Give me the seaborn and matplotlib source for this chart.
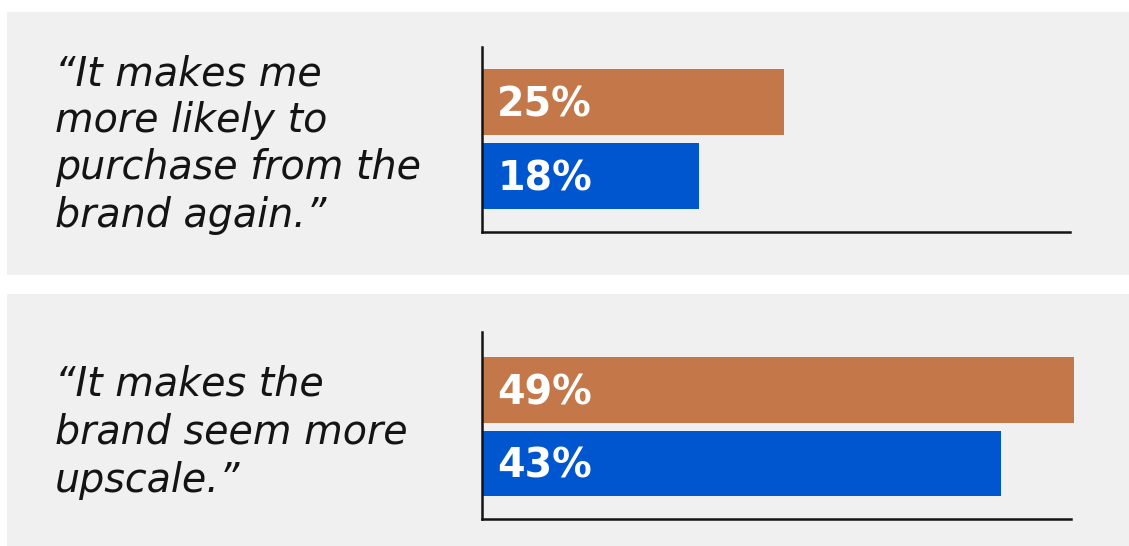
import matplotlib
matplotlib.use("Agg")
import matplotlib.pyplot as plt
import seaborn as sns
import pandas as pd
from matplotlib.patches import Rectangle

# Survey statements (one list of lines per panel)
statements = [
    ["\u201cIt makes me", "more likely to", "purchase from the", "brand again.\u201d"],
    ["\u201cIt makes the", "brand seem more", "upscale.\u201d"],
]
# Two respondent groups shown in each panel
groups = ["Group A", "Group B"]
# Share of respondents agreeing, in percent
purchase_again = [25, 18]
seem_upscale = [49, 43]
panel_values = [purchase_again, seem_upscale]

bar_colors = ["#c4784a", "#0056cf"]
panel_bg = "#f0f0f0"
ink = "#141414"

sns.set_style("white")
plt.rcParams["font.family"] = ["DejaVu Sans"]

W, H = 1129, 546
fig = plt.figure(figsize=(W / 100, H / 100), dpi=100)
fig.patch.set_facecolor("white")


def fx(px):
    return px / W


def fy(py):
    return 1 - py / H


# Panel backgrounds (pixel boxes: left, top, right, bottom)
for left, top, right, bottom in [(7, 12, W, 275), (7, 294, W, H)]:
    fig.add_artist(Rectangle((fx(left), fy(bottom)), fx(right - left), (bottom - top) / H,
                             transform=fig.transFigure, facecolor=panel_bg,
                             edgecolor="none", zorder=0))

# Axes boxes and text baselines per panel
axes_boxes = [(482, 47, 1070, 232), (482, 332, 1071, 519)]
y_limits = [(1.757, -0.743), (1.755, -0.789)]
text_baselines = [[85, 132, 179, 227], [395, 443, 492]]
px_per_pct = 12.08

for values, lines, box, ylim, baselines in zip(panel_values, statements, axes_boxes,
                                                y_limits, text_baselines):
    left, top, right, bottom = box
    ax = fig.add_axes([fx(left), fy(bottom), fx(right - left), (bottom - top) / H])
    ax.set_facecolor("none")
    df = pd.DataFrame({"group": groups, "value": values})
    sns.barplot(data=df, x="value", y="group", hue="group", palette=bar_colors,
                orient="h", width=0.89, saturation=1, legend=False, ax=ax)
    for patch in ax.patches:
        patch.set_clip_on(False)
        patch.set_linewidth(0)
    ax.set_xlim(0, (right - left) / px_per_pct)
    ax.set_ylim(*ylim)
    for i, v in enumerate(values):
        ax.annotate(f"{v}%", xy=(0, i), xytext=(11, -2.2), textcoords="offset points",
                    ha="left", va="center", color="white", fontsize=28.5,
                    fontweight="bold", zorder=5)
    ax.set_xticks([])
    ax.set_yticks([])
    ax.set_xlabel("")
    ax.set_ylabel("")
    for side in ["top", "right"]:
        ax.spines[side].set_visible(False)
    for side in ["left", "bottom"]:
        ax.spines[side].set_color(ink)
        ax.spines[side].set_linewidth(1.8)

    for line, base in zip(lines, baselines):
        fig.text(fx(55), fy(base), line, ha="left", va="baseline", fontsize=28.5,
                 style="italic", color=ink)

fig.savefig("out.png", dpi=100, facecolor="white")
